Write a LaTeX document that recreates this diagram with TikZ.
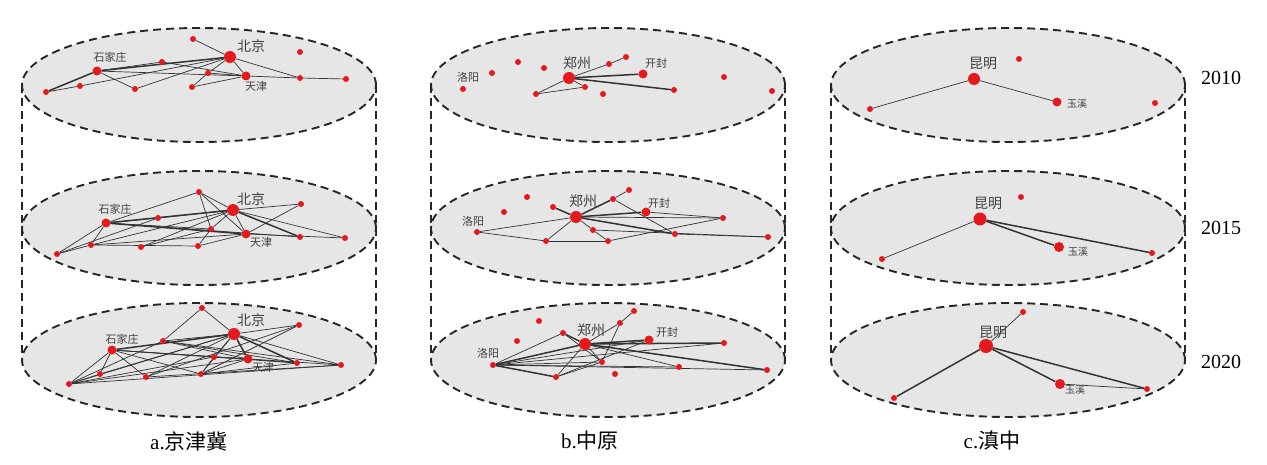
\documentclass[tikz,border=0pt]{standalone}
\usepackage{fontspec}
\setmainfont{Liberation Serif}
\newfontfamily\cjk{Noto Sans CJK SC}
\pgfdeclarelayer{bg}
\pgfdeclarelayer{mid}
\pgfsetlayers{bg,mid,main}
\definecolor{plate}{HTML}{E6E6E6}
\definecolor{dot}{HTML}{E3191E}
\definecolor{wire}{HTML}{333333}
\begin{document}
\begin{tikzpicture}[x=1pt, y=-1pt,
    rim/.style={black!85, line width=1.9pt, dash pattern=on 8pt off 5pt},
    town/.style={circle, fill=dot, inner sep=0pt, minimum size=6pt},
    city/.style={circle, fill=dot, inner sep=0pt, minimum size=9pt},
    hub/.style={circle, fill=dot, inner sep=0pt, minimum size=12pt},
    link/.style={wire, line width=0.7pt},
    heavy/.style={wire, line width=1.5pt},
    hubtag/.style={font=\cjk\fontsize{14}{14}\selectfont, text=black!75, inner sep=0pt},
    citytag/.style={font=\cjk\fontsize{11}{11}\selectfont, text=black!75, inner sep=0pt},
    smalltag/.style={font=\cjk\fontsize{10}{10}\selectfont, text=black!75, inner sep=0pt},
    yeartag/.style={font=\fontsize{20}{20}\selectfont, inner sep=0pt},
    captag/.style={font=\fontsize{21}{21}\selectfont, inner sep=0pt}]
\useasboundingbox (0,0) rectangle (1267,465);

% cylinders
\begin{pgfonlayer}{bg}
\foreach \cx in {199,608,1008} {
    \draw[rim] (\cx-177,85) -- (\cx-177,360);
    \draw[rim] (\cx+177,85) -- (\cx+177,360);
    \foreach \cy in {85,228,360}
        \draw[rim, fill=plate] (\cx,\cy) ellipse [x radius=177pt, y radius=57pt];
}
\end{pgfonlayer}

% a. 2010
\node[hub] (a1bj) at (230,57) {};
\node[city] (a1tj) at (246,76) {};
\node[city] (a1sjz) at (97,71) {};
\foreach \i/\x/\y in {1/193/39, 2/300/52, 3/162/62, 4/208/73, 5/300/78, 6/346/79, 7/46/92, 8/80/86, 9/135/89, 10/192/87}
    \node[town] (a1n\i) at (\x,\y) {};
\node[hubtag] (a1bjl) at (251,46) {北京};
\node[citytag] (a1sjzl) at (110,57) {石家庄};
\node[citytag] (a1tjl) at (256,86) {天津};
\begin{pgfonlayer}{mid}
\foreach \u/\v in {a1bj/a1n1, a1bj/a1tj, a1bj/a1n5, a1sjz/a1tj, a1sjz/a1n9, a1n7/a1n8, a1n8/a1bj, a1n3/a1tj, a1n9/a1bj, a1n10/a1n4, a1n10/a1tj, a1n4/a1bj, a1n5/a1n6, a1tj/a1n5, a1sjz/a1n3, a1n4/a1tj}
    \draw[link] (\u) -- (\v);
\foreach \u/\v in {a1sjz/a1bj, a1sjz/a1n7}
    \draw[heavy] (\u) -- (\v);
\end{pgfonlayer}

% a. 2015
\node[hub] (a2bj) at (233,210) {};
\node[city] (a2tj) at (246,234) {};
\node[city] (a2sjz) at (106,223) {};
\foreach \i/\x/\y in {1/199/192, 2/301/204, 3/158/218, 4/211/229, 5/300/237, 6/345/238, 7/57/254, 8/91/245, 9/141/247, 10/198/246}
    \node[town] (a2n\i) at (\x,\y) {};
\node[hubtag] (a2bjl) at (251,199) {北京};
\node[citytag] (a2sjzl) at (115,209) {石家庄};
\node[citytag] (a2tjl) at (261,242) {天津};
\begin{pgfonlayer}{mid}
\foreach \u/\v in {a2sjz/a2n3, a2sjz/a2n4, a2sjz/a2n5, a2sjz/a2n7, a2sjz/a2n8, a2sjz/a2n1, a2bj/a2n1, a2bj/a2tj, a2bj/a2n2, a2bj/a2n6, a2bj/a2n4, a2bj/a2n8, a2bj/a2n9, a2bj/a2n3, a2tj/a2n2, a2tj/a2n1, a2tj/a2n8, a2tj/a2n10, a2tj/a2n6, a2n1/a2n4, a2n7/a2n8, a2n8/a2n10, a2n9/a2n4, a2n10/a2n4, a2n7/a2n3}
    \draw[link] (\u) -- (\v);
\foreach \u/\v in {a2sjz/a2bj, a2sjz/a2tj, a2bj/a2n5}
    \draw[heavy] (\u) -- (\v);
\end{pgfonlayer}

% a. 2020
\node[hub] (a3bj) at (234,334) {};
\node[city] (a3tj) at (248,359) {};
\node[city] (a3sjz) at (112,350) {};
\foreach \i/\x/\y in {1/202/308, 2/299/325, 3/163/341, 4/214/357, 5/297/363, 6/341/365, 7/69/384, 8/100/374, 9/146/377, 10/201/374}
    \node[town] (a3n\i) at (\x,\y) {};
\node[hubtag] (a3bjl) at (251,320) {北京};
\node[citytag] (a3sjzl) at (122,339) {石家庄};
\node[citytag] (a3tjl) at (263,367) {天津};
\begin{pgfonlayer}{mid}
\foreach \u/\v in {a3n1/a3bj, a3n1/a3n3, a3sjz/a3tj, a3sjz/a3n5, a3sjz/a3n6, a3sjz/a3n8, a3sjz/a3n9, a3sjz/a3n10, a3sjz/a3n7, a3n3/a3bj, a3n3/a3tj, a3n3/a3n5, a3n3/a3n7, a3n3/a3n6, a3bj/a3n2, a3bj/a3n6, a3bj/a3n4, a3bj/a3n10, a3bj/a3n9, a3bj/a3n8, a3bj/a3n7, a3n2/a3n10, a3n2/a3n9, a3tj/a3n5, a3tj/a3n10, a3tj/a3n7, a3n7/a3n6, a3n7/a3n8, a3n9/a3n6, a3n10/a3n5, a3n4/a3n10, a3n7/a3n4}
    \draw[link] (\u) -- (\v);
\foreach \u/\v in {a3sjz/a3bj, a3bj/a3tj, a3bj/a3n5}
    \draw[heavy] (\u) -- (\v);
\end{pgfonlayer}

% b. 2010
\node[hub] (b1zz) at (569,78) {};
\node[city] (b1kf) at (643,74) {};
\node[town] (b1ly) at (463,89) {};
\foreach \i/\x/\y in {1/492/73, 2/518/62, 3/544/68, 4/609/64, 5/626/57, 6/585/87, 7/536/94, 8/603/94, 9/674/90, 10/724/77, 11/772/91}
    \node[town] (b1n\i) at (\x,\y) {};
\node[hubtag] (b1zzl) at (577,63) {郑州};
\node[citytag] (b1kfl) at (656,63) {开封};
\node[citytag] (b1lyl) at (468,77) {洛阳};
\begin{pgfonlayer}{mid}
\foreach \u/\v in {b1zz/b1n4, b1n4/b1n5, b1zz/b1n7, b1n7/b1n6, b1zz/b1n6}
    \draw[link] (\u) -- (\v);
\foreach \u/\v in {b1zz/b1kf, b1zz/b1n9}
    \draw[heavy] (\u) -- (\v);
\end{pgfonlayer}

% b. 2015
\node[hub] (b2zz) at (576,217) {};
\node[city] (b2kf) at (646,212) {};
\node[town] (b2ly) at (477,232) {};
\foreach \i/\x/\y in {1/504/212, 2/527/197, 3/553/207, 4/613/199, 5/629/190, 6/593/230, 7/546/241, 8/608/241, 9/675/234, 10/723/218, 11/768/237}
    \node[town] (b2n\i) at (\x,\y) {};
\node[hubtag] (b2zzl) at (583,201) {郑州};
\node[citytag] (b2kfl) at (659,203) {开封};
\node[citytag] (b2lyl) at (473,221) {洛阳};
\begin{pgfonlayer}{mid}
\foreach \u/\v in {b2n4/b2n5, b2n4/b2n9, b2zz/b2n10, b2zz/b2ly, b2zz/b2n6, b2zz/b2n7, b2n6/b2n8, b2n6/b2n11, b2ly/b2n7, b2n7/b2n8, b2n8/b2n10, b2n9/b2n11, b2kf/b2n10}
    \draw[link] (\u) -- (\v);
\foreach \u/\v in {b2zz/b2n4, b2zz/b2n3, b2zz/b2kf, b2zz/b2n9}
    \draw[heavy] (\u) -- (\v);
\end{pgfonlayer}

% b. 2020
\node[hub] (b3zz) at (585,344) {};
\node[city] (b3kf) at (649,340) {};
\node[town] (b3ly) at (493,365) {};
\foreach \i/\x/\y in {1/517/341, 2/539/321, 3/563/333, 4/620/323, 5/634/311, 6/602/362, 7/556/377, 8/615/374, 9/679/367, 10/724/343, 11/767/370}
    \node[town] (b3n\i) at (\x,\y) {};
\node[hubtag] (b3zzl) at (591,330) {郑州};
\node[citytag] (b3kfl) at (667,332) {开封};
\node[citytag] (b3lyl) at (488,353) {洛阳};
\begin{pgfonlayer}{mid}
\foreach \u/\v in {b3ly/b3n3, b3ly/b3kf, b3ly/b3n10, b3ly/b3n11, b3ly/b3n9, b3ly/b3n6, b3n3/b3n6, b3zz/b3n4, b3n4/b3n5, b3n4/b3n6, b3zz/b3n9, b3zz/b3n7, b3zz/b3n6, b3n7/b3kf, b3n7/b3n6}
    \draw[link] (\u) -- (\v);
\foreach \u/\v in {b3ly/b3zz, b3ly/b3n7, b3n3/b3zz, b3zz/b3kf, b3zz/b3n10, b3zz/b3n11}
    \draw[heavy] (\u) -- (\v);
\end{pgfonlayer}

% c. 2010 -- 2020
\node[hub] (c1km) at (974,79) {};
\node[city] (c1yx) at (1057,102) {};
\foreach \i/\x/\y in {1/1019/59, 2/870/109, 3/1155/103}
    \node[town] (c1n\i) at (\x,\y) {};
\node[hubtag] (c1kml) at (983,63) {昆明};
\node[smalltag] (c1yxl) at (1077,104) {玉溪};

\node[hub, minimum size=13pt] (c2km) at (980,219) {};
\node[city, minimum size=10pt] (c2yx) at (1059,247) {};
\foreach \i/\x/\y in {1/1021/197, 2/882/259, 3/1152/253}
    \node[town] (c2n\i) at (\x,\y) {};
\node[hubtag] (c2kml) at (988,203) {昆明};
\node[smalltag] (c2yxl) at (1078,252) {玉溪};

\node[hub, minimum size=14pt] (c3km) at (986,346) {};
\node[city, minimum size=10pt] (c3yx) at (1060,384) {};
\foreach \i/\x/\y in {1/1023/312, 2/894/398, 3/1147/389}
    \node[town] (c3n\i) at (\x,\y) {};
\node[hubtag] (c3kml) at (993,332) {昆明};
\node[smalltag] (c3yxl) at (1075,390) {玉溪};

\begin{pgfonlayer}{mid}
\foreach \u/\v in {c1km/c1n2, c1km/c1yx, c2km/c2n2, c3km/c3n1, c3yx/c3n3}
    \draw[link] (\u) -- (\v);
\foreach \u/\v in {c2km/c2yx, c2km/c2n3, c3km/c3n2, c3km/c3yx, c3km/c3n3}
    \draw[heavy] (\u) -- (\v);
\end{pgfonlayer}

% years and captions
\node[yeartag] (y10) at (1221,78) {2010};
\node[yeartag] (y15) at (1221,228) {2015};
\node[yeartag] (y20) at (1221,362) {2020};
\node[captag] (capa) at (189,441) {a.{\cjk 京津冀}};
\node[captag] (capb) at (590,441) {b.{\cjk 中原}};
\node[captag] (capc) at (992,441) {c.{\cjk 滇中}};
\end{tikzpicture}
\end{document}
